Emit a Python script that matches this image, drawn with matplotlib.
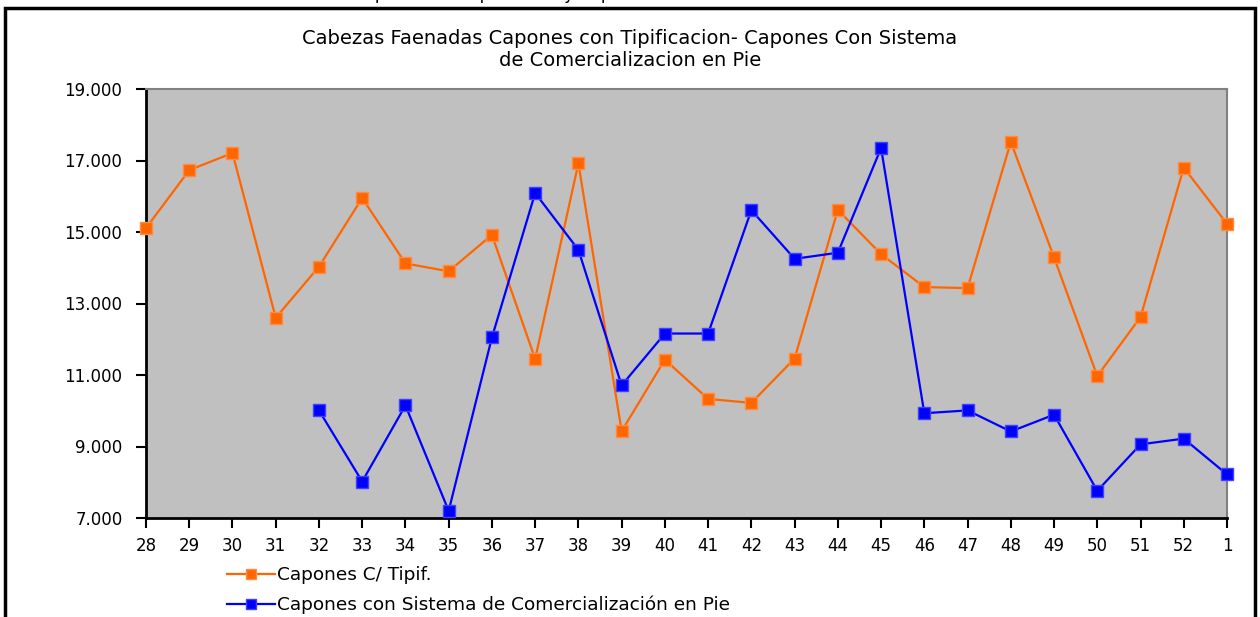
import matplotlib.pyplot as plt
from matplotlib.patches import Rectangle
from matplotlib.ticker import FuncFormatter
import numpy as np

plt.rcParams['font.family'] = ['DejaVu Sans']

semanas = ['28', '29', '30', '31', '32', '33', '34', '35', '36', '37', '38', '39', '40',
           '41', '42', '43', '44', '45', '46', '47', '48', '49', '50', '51', '52', '1']
tipif = [15110, 16730, 17210, 12600, 14030, 15950, 14120, 13900, 14920, 11450, 16920, 9430, 11430,
         10330, 10220, 11460, 15620, 14380, 13460, 13430, 17520, 14290, 10970, 12620, 16800, 15230]
en_pie = [np.nan, np.nan, np.nan, np.nan, 10010, 8020, 10150, 7200, 12050, 16090, 14500, 10710, 12160,
          12160, 15610, 14250, 14420, 17350, 9930, 10010, 9420, 9890, 7760, 9060, 9220, 8220]

fig = plt.figure(figsize=(12.6, 6.17), dpi=100)
ax = fig.add_axes([146/1260, 1-518/617, (1227-146)/1260, (518-89)/617])
ax.set_facecolor('#c0c0c0')

x = np.arange(len(semanas))
ax.plot(x, tipif, color='#ff6600', lw=1.6, marker='s', ms=8, mfc='#ff6600', mec='#ff8c40', mew=1,
        label='Capones C/ Tipif.', clip_on=False, zorder=3)
ax.plot(x, en_pie, color='#0000ff', lw=1.6, marker='s', ms=8, mfc='#0000ff', mec='#4040ff', mew=1,
        label='Capones con Sistema de Comercialización en Pie', clip_on=False, zorder=3)

ax.set_xlim(0, len(semanas)-1)
ax.set_ylim(7000, 19000)
ax.set_yticks(np.arange(7000, 19001, 2000))
ax.yaxis.set_major_formatter(FuncFormatter(lambda v, p: f'{int(v):,}'.replace(',', '.')))
ax.set_xticks(x)
ax.set_xticklabels(semanas)
ax.tick_params(direction='out', length=7, width=1.5, labelsize=12, pad=7, color='black')
ax.tick_params(axis='y', pad=10)

for s in ['left', 'bottom']:
    ax.spines[s].set_linewidth(2)
    ax.spines[s].set_color('black')
for s in ['top', 'right']:
    ax.spines[s].set_linewidth(1.5)
    ax.spines[s].set_color('#808080')

fig.text(0.5, 1-38/617, 'Cabezas Faenadas Capones con Tipificacion- Capones Con Sistema',
         ha='center', va='center', fontsize=14)
fig.text(0.5, 1-60/617, 'de Comercializacion en Pie', ha='center', va='center', fontsize=14)

# titulo de arriba, cortado por el borde como en el original
fig.text(0.5, 1+1/617, 'Faena de Capones con Tipificación y Capones con Sistema de Comercialización en Pie',
         ha='center', va='baseline', fontsize=12)

fig.patches.append(Rectangle((5/1260, -0.02), 1250/1260, 1.02-8/617, transform=fig.transFigure,
                             fill=False, lw=2.5, ec='black', clip_on=False))

ax.legend(loc='upper left', bbox_to_anchor=(220/1260, 1-559/617), bbox_transform=fig.transFigure,
          frameon=False, fontsize=13.3, handlelength=2.6, handletextpad=0.1, labelspacing=0.6,
          borderaxespad=0, markerscale=0.85)

fig.savefig('out.png', dpi=100)
